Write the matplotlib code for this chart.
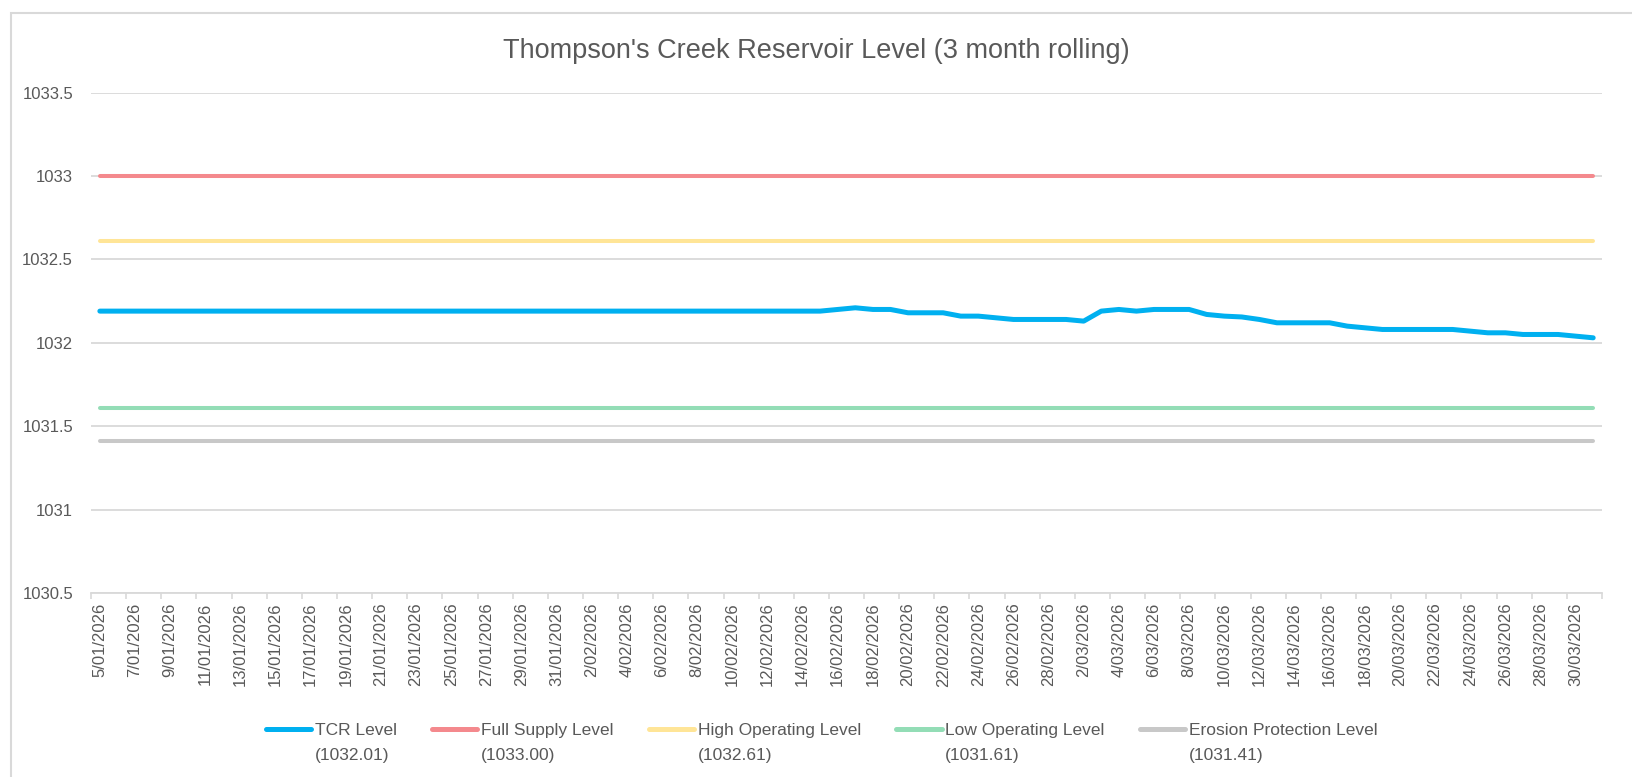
import numpy as np
import pandas as pd
import matplotlib
matplotlib.use("Agg")
import matplotlib.pyplot as plt
from matplotlib.lines import Line2D
from matplotlib.patches import Rectangle
from matplotlib.legend_handler import HandlerLine2D

plt.rcParams['font.family'] = ['Liberation Sans', 'DejaVu Sans']

# daily categories 5/01/2026 .. 31/03/2026
dates = pd.date_range('2026-01-05', '2026-03-31', freq='D')
date_labels = [f"{d.day}/{d.month:02d}/{d.year}" for d in dates]

tcr_level = [1032.19] * 42 + [
    1032.20, 1032.21, 1032.20, 1032.20, 1032.18, 1032.18, 1032.18, 1032.16,
    1032.16, 1032.15, 1032.14, 1032.14, 1032.14, 1032.14, 1032.13, 1032.19,
    1032.20, 1032.19, 1032.20, 1032.20, 1032.20, 1032.17, 1032.16, 1032.155,
    1032.14, 1032.12, 1032.12, 1032.12, 1032.12, 1032.10, 1032.09, 1032.08,
    1032.08, 1032.08, 1032.08, 1032.08, 1032.07, 1032.06, 1032.06, 1032.05,
    1032.05, 1032.05, 1032.04, 1032.03,
]
full_supply = [1033.00] * len(dates)
high_operating = [1032.61] * len(dates)
low_operating = [1031.61] * len(dates)
erosion_protection = [1031.41] * len(dates)

series_names = ['TCR Level\n(1032.01)', 'Full Supply Level\n(1033.00)',
                'High Operating Level\n(1032.61)', 'Low Operating Level\n(1031.61)',
                'Erosion Protection Level\n(1031.41)']
series_values = [tcr_level, full_supply, high_operating, low_operating, erosion_protection]
series_colors = ['#00B0F0', '#F4898D', '#FFE597', '#93DDB6', '#C8C8C8']
series_widths = [3.6, 2.9, 2.9, 2.9, 2.9]

text_grey = '#595959'
grid_grey = '#D9D9D9'


class FirstLineHandler(HandlerLine2D):
    # put the legend swatch next to the first line of a two-line label
    def create_artists(self, legend, orig_handle, xdescent, ydescent,
                       width, height, fontsize, trans):
        arts = super().create_artists(legend, orig_handle, xdescent, ydescent,
                                      width, height, fontsize, trans)
        for a in arts:
            a.set_ydata(np.asarray(a.get_ydata()) + fontsize * 0.78)
        return arts


fig = plt.figure(figsize=(16.32, 7.77), dpi=100)
ax = fig.add_axes([0.0558, 0.2368, 0.9258, 0.644])

x = np.arange(len(dates))
order = [1, 2, 3, 4, 0]
lines = {}
for i in order:
    ln, = ax.plot(x, series_values[i], color=series_colors[i], lw=series_widths[i],
                  solid_capstyle='round', label=series_names[i], zorder=3 if i == 0 else 2)
    lines[i] = ln

ax.set_xlim(-0.5, len(dates) - 0.5)
ax.set_ylim(1030.5, 1033.5)
ax.set_yticks(np.arange(1030.5, 1033.51, 0.5))
ax.set_yticklabels(['1030.5', '1031', '1031.5', '1032', '1032.5', '1033', '1033.5'])
ax.yaxis.grid(True, color=grid_grey, lw=1.3)
ax.set_axisbelow(True)

ax.set_xticks(x[::2])
ax.set_xticklabels(date_labels[::2], rotation=90)
ax.set_xticks(np.arange(-0.5, len(dates), 2), minor=True)
ax.tick_params(axis='x', which='major', length=0, pad=7, labelsize=12, labelcolor=text_grey)
ax.tick_params(axis='x', which='minor', length=4.5, width=1.2, color=grid_grey)
ax.tick_params(axis='y', length=0, pad=13, labelsize=12, labelcolor=text_grey)

for side in ['top', 'right', 'left']:
    ax.spines[side].set_visible(False)
ax.spines['bottom'].set_color(grid_grey)
ax.spines['bottom'].set_linewidth(1.3)

fig.text(0.5, 0.935, "Thompson's Creek Reservoir Level (3 month rolling)",
         ha='center', va='center', fontsize=19.5, color=text_grey)

leg = fig.legend([lines[i] for i in range(5)], series_names, loc='center',
                 bbox_to_anchor=(0.5035, 0.044), ncol=5, frameon=False,
                 fontsize=12.5, handlelength=2.6, handletextpad=0.2,
                 columnspacing=2.05, labelcolor=text_grey,
                 handler_map={Line2D: FirstLineHandler()})
for lh in leg.get_lines():
    lh.set_linewidth(3.6)
for t in leg.get_texts():
    t.set_linespacing(1.8)

fig.patches.append(Rectangle((11 / 1632, -0.1), 1.2, 1 - 13 / 777 + 0.1,
                             transform=fig.transFigure, fill=False,
                             edgecolor=grid_grey, lw=1.5))

fig.savefig('out.png', dpi=100)
